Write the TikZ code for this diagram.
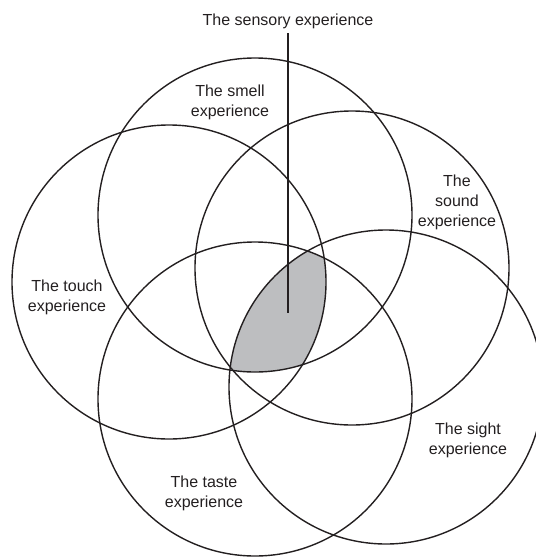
\documentclass[tikz,border=0pt]{standalone}
\usepackage{fontspec}
\setmainfont{Liberation Sans}
\definecolor{ink}{HTML}{231F20}
\definecolor{coregray}{HTML}{BDBEC0}
\begin{document}
\begin{tikzpicture}[x=1pt,y=-1pt,
  ring/.style={circle, draw=ink, line width=1.4pt, minimum size=314pt, inner sep=0pt},
  lbl/.style={text=ink, font=\fontsize{16}{20}\selectfont, align=center, inner sep=0pt}]
\useasboundingbox (0,0) rectangle (536,558);
% circle centres
\coordinate (csmell) at (255,215);
\coordinate (csound) at (352,268);
\coordinate (ctouch) at (169,282);
\coordinate (ctaste) at (255,399);
\coordinate (csight) at (386,387);
% shaded common region
\begin{scope}
  \clip (csmell) circle[radius=157pt];
  \clip (csound) circle[radius=157pt];
  \clip (ctouch) circle[radius=157pt];
  \clip (ctaste) circle[radius=157pt];
  \clip (csight) circle[radius=157pt];
  \fill[coregray] (0,0) rectangle (536,558);
\end{scope}
% circles
\node[ring] (smell) at (csmell) {};
\node[ring] (sound) at (csound) {};
\node[ring] (touch) at (ctouch) {};
\node[ring] (taste) at (ctaste) {};
\node[ring] (sight) at (csight) {};
% labels
\node[lbl, anchor=base] (title) at (288,25) {The sensory experience};
\node[lbl] (lsmell) at (230,102) {The smell\\experience};
\node[lbl] (lsound) at (457,202) {The\\sound\\experience};
\node[lbl] (ltouch) at (67,297) {The touch\\experience};
\node[lbl] (ltaste) at (204,493) {The taste\\experience};
\node[lbl] (lsight) at (468,440) {The sight\\experience};
% pointer line
\coordinate (linetop) at (288,33);
\coordinate (core) at (288,313);
\draw[ink, line width=1.6pt] (linetop) -- (core);
\end{tikzpicture}
\end{document}
